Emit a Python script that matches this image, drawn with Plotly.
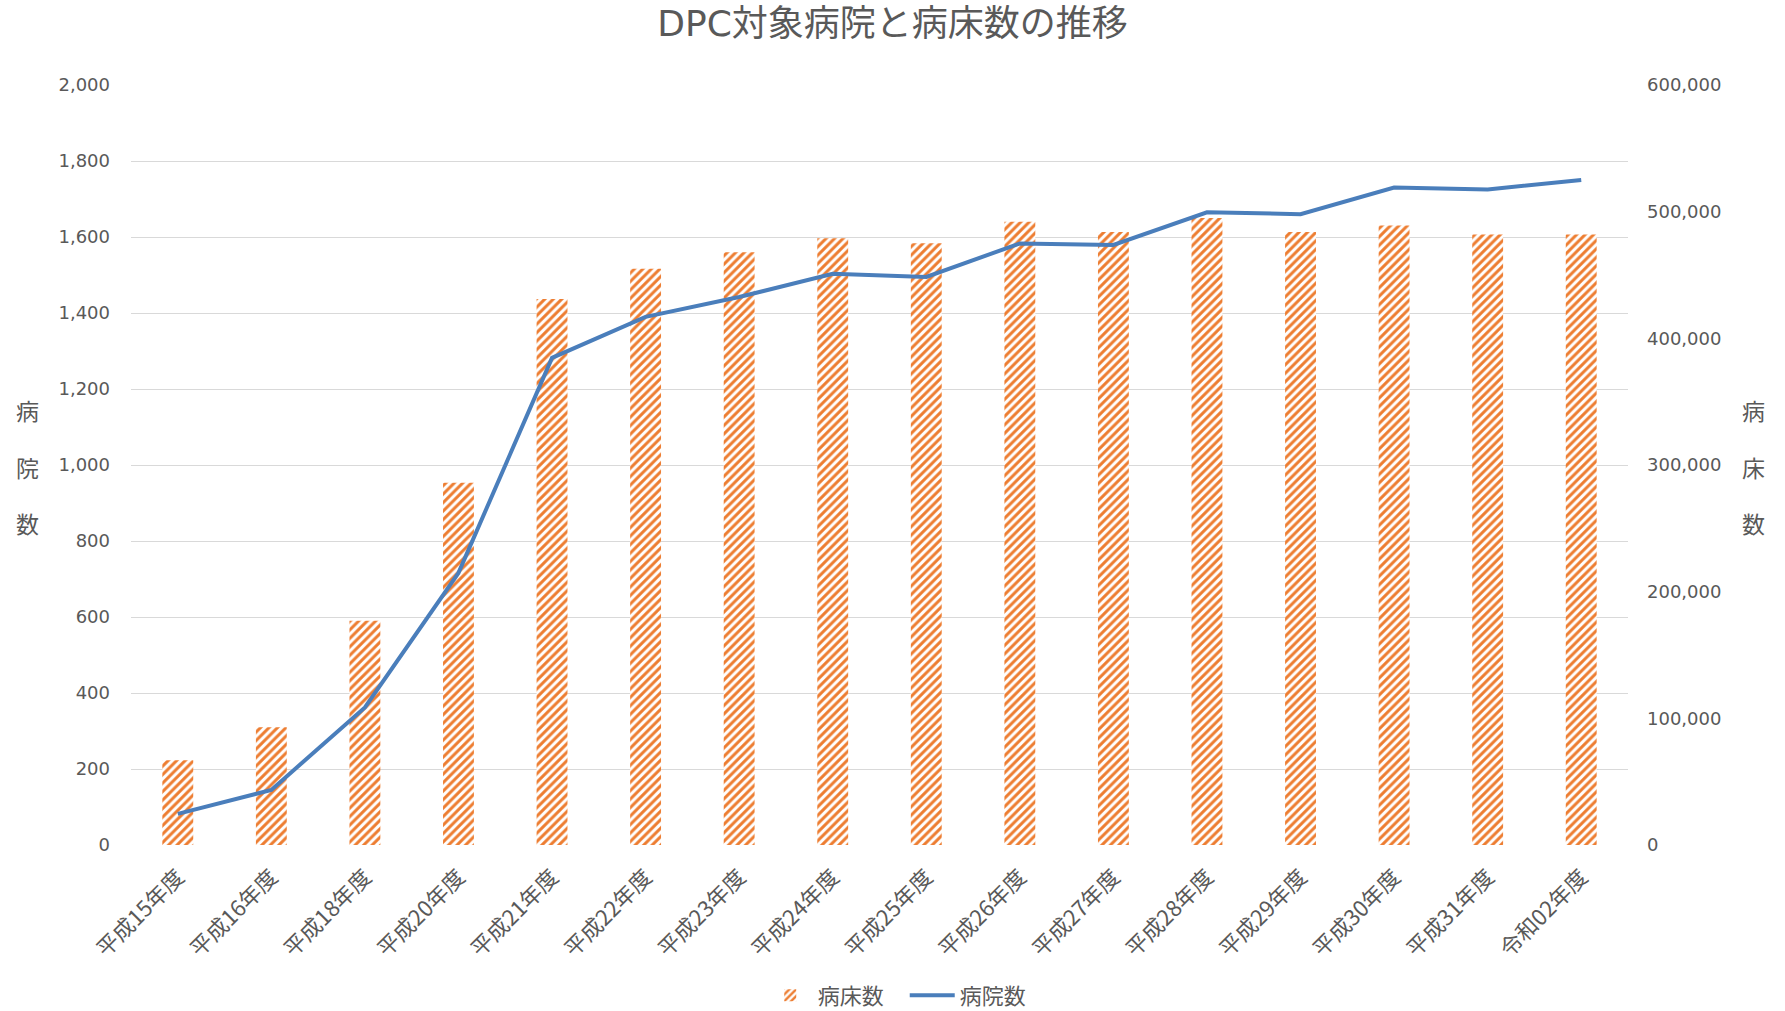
#!/usr/bin/env python3
import plotly.graph_objects as go

# data
years = ["平成15年度", "平成16年度", "平成18年度", "平成20年度", "平成21年度",
         "平成22年度", "平成23年度", "平成24年度", "平成25年度", "平成26年度",
         "平成27年度", "平成28年度", "平成29年度", "平成30年度", "平成31年度",
         "令和02年度"]
beds = [67000, 93000, 177000, 286000, 431000, 455000, 468000, 479000, 475000,
        492000, 484000, 495000, 484000, 489000, 482000, 482000]
hospitals = [82, 145, 362, 716, 1282, 1390, 1442, 1503, 1495, 1583, 1579,
             1665, 1660, 1730, 1725, 1750]

grey = "#595959"
font_main = "DejaVu Sans, Noto Sans CJK JP"

fig = go.Figure()

# bars (right axis)
fig.add_trace(go.Bar(x=years, y=beds, name="病床数", yaxis="y",
                     marker=dict(color="white",
                                 line=dict(width=0),
                                 pattern=dict(shape="/", fgcolor="#ED7D31",
                                              fgopacity=1, fillmode="replace",
                                              bgcolor="white", size=6,
                                              solidity=0.5))))

# line (left axis)
fig.add_trace(go.Scatter(x=years, y=hospitals, name="病院数", yaxis="y2",
                         mode="lines",
                         line=dict(color="#4A7EBB", width=4)))

# vertical axis titles, one char each
annos = []
for i, ch in enumerate("病院数"):
    annos.append(dict(text=ch, xref="paper", yref="paper", x=-0.069,
                      xanchor="center", y=0.572 - i * 0.074, showarrow=False,
                      font=dict(size=23, color=grey,
                                family="Noto Sans CJK JP")))
for i, ch in enumerate("病床数"):
    annos.append(dict(text=ch, xref="paper", yref="paper", x=1.084,
                      xanchor="center", y=0.572 - i * 0.074, showarrow=False,
                      font=dict(size=23, color=grey,
                                family="Noto Sans CJK JP")))

fig.update_layout(
    title=dict(text="DPC対象病院と病床数の推移", x=0.5, xanchor="center",
               y=0.977, yanchor="middle",
               font=dict(size=36, color=grey, family=font_main)),
    width=1785, height=1011,
    margin=dict(l=131, r=157, t=85, b=166, autoexpand=False),
    paper_bgcolor="white", plot_bgcolor="white",
    font=dict(family=font_main, size=18, color=grey),
    bargap=0.67,
    xaxis=dict(tickangle=-45, showgrid=False, showline=False, ticks="",
               automargin=False, ticklabelstandoff=14,
               tickfont=dict(size=22, family="Noto Sans CJK JP", color=grey)),
    yaxis=dict(side="right", range=[0, 600000], dtick=100000,
               tickformat=",d", showgrid=False, zeroline=False,
               automargin=False, ticklabelstandoff=18),
    yaxis2=dict(side="left", overlaying="y", range=[0, 2000], dtick=200,
                tickformat=",d", showgrid=True, gridcolor="#D9D9D9",
                gridwidth=1, zeroline=False, automargin=False,
                ticklabelstandoff=20),
    legend=dict(orientation="h", x=0.422, xanchor="left", y=-0.198,
                yanchor="middle", entrywidth=82, itemwidth=45,
                font=dict(size=22, family="Noto Sans CJK JP", color=grey)),
    annotations=annos,
)

# drop the default page margin so the figure sits at the window corner
fig.write_html("out.html", config={"displayModeBar": False},
               post_script="document.body.style.margin='0';")
